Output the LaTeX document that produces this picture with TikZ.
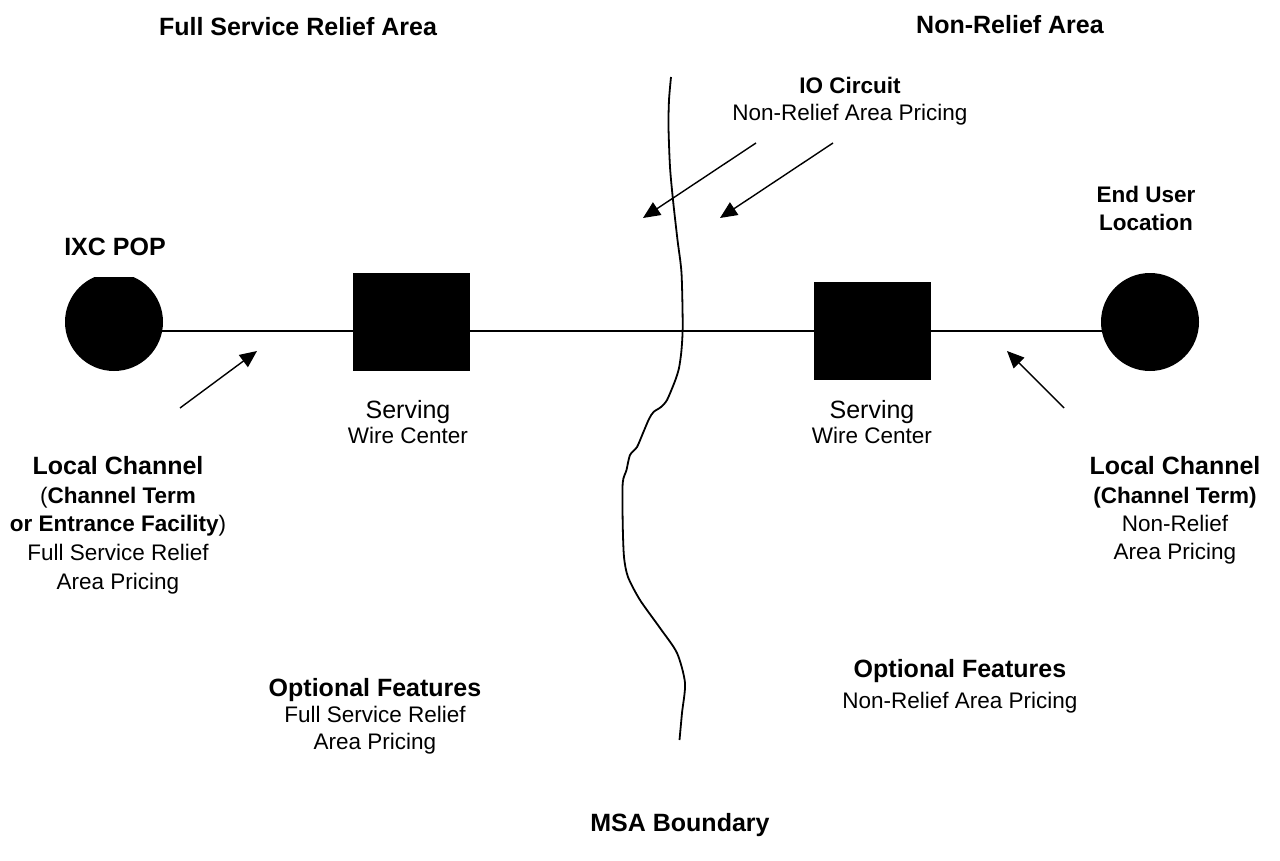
\documentclass[tikz,border=0pt]{standalone}
\usepackage{fontspec}
\setmainfont{Liberation Sans}
\usetikzlibrary{arrows.meta,backgrounds}
\begin{document}
\begin{tikzpicture}[x=1pt,y=-1pt,
  bigb/.style={font=\fontsize{25}{29}\selectfont\bfseries, inner sep=0pt, anchor=base},
  smb/.style={font=\fontsize{22.5}{27}\selectfont\bfseries, inner sep=0pt, anchor=base},
  bigr/.style={font=\fontsize{25}{29}\selectfont, inner sep=0pt, anchor=base},
  smr/.style={font=\fontsize{22.5}{27}\selectfont, inner sep=0pt, anchor=base},
  dot/.style={circle, fill=black, draw=none, minimum size=98pt, inner sep=0pt},
  office/.style={rectangle, fill=black, draw=none, minimum width=117pt, minimum height=98pt, inner sep=0pt},
  link/.style={line width=1.5pt},
  pointer/.style={line width=1.4pt, -{Triangle[length=17pt,width=15pt]}},
  boundary/.style={line width=1.8pt}]
\useasboundingbox (0,0) rectangle (1280,861);

% nodes
\begin{scope}
  \clip (50,277) rectangle (180,380);
  \node[dot] (pop) at (114,322) {};
\end{scope}
\node[dot] (eu) at (1150,322) {};
\node[office] (sw1) at (411,321.5) {};
\node[office] (sw2) at (872,330.5) {};
\coordinate (lineref) at (0,331);

\begin{scope}[on background layer]
  \draw[link] (pop.center |- lineref) -- (eu.center |- lineref);
\end{scope}

% MSA boundary
\draw[boundary] plot[smooth, tension=0.45] coordinates {
 (671,77) (669,100) (668.5,127) (670,167) (673,200) (677.5,240) (681.5,273) (682.7,325)
 (681.5,350) (679,368) (675,381) (667,400) (661,407) (653.5,412) (649,419) (643,433)
 (637,447) (630,455) (626.5,470) (622.7,483) (622.7,523) (624,557) (628,577) (640,600)
 (660,628) (677,653) (685,683) (682,713) (679.5,740)};

% arrows
\coordinate (a1s) at (756,143); \coordinate (a1e) at (643,218);
\coordinate (a2s) at (833,143); \coordinate (a2e) at (720,218);
\coordinate (a3s) at (180,408); \coordinate (a3e) at (257,351);
\coordinate (a4s) at (1064,408); \coordinate (a4e) at (1007,351);
\draw[pointer] (a1s) -- (a1e);
\draw[pointer] (a2s) -- (a2e);
\draw[pointer] (a3s) -- (a3e);
\draw[pointer] (a4s) -- (a4e);

% texts
\node[bigb] (t1) at (298,36) {Full Service Relief Area};
\node[bigb] (t2) at (1010,34) {Non-Relief Area};
\node[smb] (io1) at (850,94) {IO Circuit};
\node[smr] (io2) at (850,121) {Non-Relief Area Pricing};
\node[smb] (eu1) at (1146,203) {End User};
\node[smb] (eu2) at (1146,231) {Location};
\node[bigb] (pop1) at (115,255) {IXC POP};
\node[bigr] (sv1) at (408,418) {Serving};
\node[smr] (sv2) at (408,443) {Wire Center};
\node[bigr] (sv3) at (872,418) {Serving};
\node[smr] (sv4) at (872,443) {Wire Center};
\node[bigb] (lc1) at (118,474) {Local Channel};
\node[smb] (lc2) at (118,503) {\mdseries(\bfseries Channel Term};
\node[smb] (lc3) at (118,531) {or Entrance Facility\mdseries)};
\node[smr] (lc4) at (118,560) {Full Service Relief};
\node[smr] (lc5) at (118,589) {Area Pricing};
\node[bigb] (rc1) at (1175,474) {Local Channel};
\node[smb] (rc2) at (1175,503) {(Channel Term)};
\node[smr] (rc3) at (1175,531) {Non-Relief};
\node[smr] (rc4) at (1175,559) {Area Pricing};
\node[bigb] (of1) at (375,696) {Optional Features};
\node[smr] (of2) at (375,722) {Full Service Relief};
\node[smr] (of3) at (375,749) {Area Pricing};
\node[bigb] (of4) at (960,677) {Optional Features};
\node[smr] (of5) at (960,708) {Non-Relief Area Pricing};
\node[bigb] (msa) at (680,831) {MSA Boundary};
\end{tikzpicture}
\end{document}
